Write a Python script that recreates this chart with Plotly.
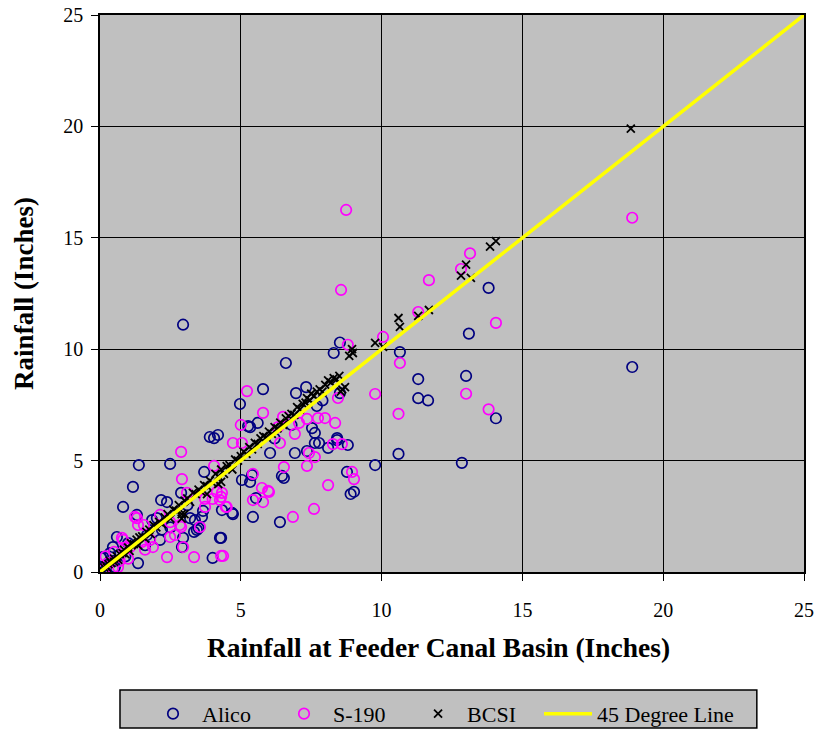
import plotly.graph_objects as go

# Alico gauge vs Feeder Canal Basin rainfall (inches)
alico_x = [2.95, 13.8, 13.1, 13.0, 14.06, 12.85, 18.9, 9.77, 10.6, 10.65, 11.3, 11.3, 11.65,
           8.77, 8.9, 9.02, 8.8, 8.42, 8.1, 7.78, 7.63, 7.35, 6.92, 6.53, 5.33, 5.54, 5.43,
           6.39, 4.72, 4.26, 8.52, 8.3, 6.6, 5.79, 6.96, 7.32, 7.7, 8.52, 5.33, 5.6, 7.53,
           7.63, 8.42, 4.97, 5.26, 3.9, 4.05, 4.19, 1.38, 2.49, 3.7, 1.17, 0.82, 2.17, 2.38,
           2.88, 4.33, 4.69, 3.66, 3.62, 3.34, 3.5, 2.95, 2.91, 4.3, 4.0, 1.35, 0.6, 0.04,
           1.67, 2.13, 5.04, 1.31, 1.85, 2.02, 0.11, 0.36, 0.46, 3.2, 3.37, 3.44, 6.04, 6.46,
           5.4, 0.53, 0.07, 0.3, 0.9, 1.0, 2.5, 3.1, 6.2, 6.8, 7.9, 0.2, 0.5, 1.6, 2.2]
alico_y = [11.1, 12.75, 10.7, 8.8, 6.9, 4.9, 9.2, 4.8, 5.3, 9.87, 8.66, 7.8, 7.7,
           4.49, 3.5, 3.6, 5.7, 5.92, 5.57, 5.79, 5.79, 5.43, 5.34, 4.22, 4.04, 3.32, 2.47,
           2.24, 2.6, 1.53, 10.3, 9.83, 9.38, 8.21, 8.03, 8.3, 7.45, 8.03, 6.5, 6.69, 6.46,
           6.24, 6.01, 7.54, 6.55, 6.06, 6.01, 6.15, 4.8, 4.85, 4.49, 3.82, 2.92, 3.23, 3.14,
           3.55, 2.78, 2.65, 2.74, 2.47, 1.8, 1.97, 1.53, 1.12, 1.53, 0.63, 0.4, 1.57, 0.63,
           1.66, 1.44, 4.13, 2.56, 2.33, 2.42, 0.67, 0.85, 1.12, 2.42, 2.33, 1.89, 5.34, 4.31,
           4.35, 0.22, 0.22, 0.4, 0.7, 1.3, 2.0, 3.0, 6.0, 6.6, 7.7, 0.1, 0.5, 1.2, 1.9]

# S-190 gauge
s190_x = [8.74, 18.9, 13.14, 12.82, 11.68, 11.3, 10.05, 14.06, 10.65, 13.0, 13.8, 10.6, 9.77,
          8.56, 8.8, 5.22, 5.0, 4.72, 5.04, 2.88, 4.05, 5.79, 6.5, 6.32, 7.07, 7.35, 7.74,
          7.99, 8.35, 8.45, 6.39, 6.92, 7.42, 7.63, 7.35, 6.53, 8.27, 8.59, 5.43, 6.0, 5.79,
          8.1, 8.95, 9.02, 7.6, 6.85, 4.33, 4.47, 4.37, 2.91, 3.09, 3.73, 4.0, 4.3, 3.73,
          4.5, 1.31, 1.35, 2.13, 2.88, 3.55, 2.95, 2.38, 3.34, 4.3, 0.82, 1.6, 1.88, 2.49,
          0.28, 0.64, 1.24, 1.56, 0.78, 1.49, 1.78, 1.07, 0.46, 2.49, 2.66, 2.84, 4.15, 4.26,
          5.75, 5.97, 5.43, 0.2, 0.5, 0.7, 1.0, 0.1, 0.9]
s190_y = [16.25, 15.9, 14.3, 13.6, 13.1, 11.67, 10.55, 11.18, 9.38, 8.0, 7.3, 7.1, 7.99,
          12.66, 10.2, 8.12, 6.6, 5.79, 5.79, 5.39, 4.76, 7.14, 6.96, 6.5, 6.69, 6.87, 6.91,
          6.91, 6.69, 7.81, 5.79, 6.2, 5.34, 5.16, 4.76, 4.71, 5.74, 5.74, 4.4, 3.59, 3.14,
          3.9, 4.49, 4.17, 2.83, 2.47, 3.55, 2.92, 0.72, 4.17, 3.55, 3.28, 3.28, 3.37, 2.92,
          2.92, 2.42, 2.11, 2.56, 2.02, 2.02, 1.12, 0.67, 0.67, 0.72, 1.44, 1.0, 1.12, 2.24,
          0.4, 0.22, 2.47, 2.11, 1.53, 1.35, 1.44, 1.12, 0.18, 1.57, 1.66, 2.11, 3.59, 3.23,
          3.77, 3.64, 3.23, 0.7, 0.9, 0.5, 0.6, 0.1, 1.1]

# BCSI gauge
bcsi_x = [0.05, 0.1, 0.15, 0.2, 0.25, 0.3, 0.35, 0.4, 0.5, 0.5, 0.6, 0.65, 0.7, 0.8, 0.85, 0.9,
          1.0, 1.05, 1.1, 1.2, 1.3, 1.35, 1.4, 1.5, 1.6, 1.65, 1.75, 1.8, 1.9, 2.0, 2.1, 2.2,
          2.3, 2.4, 2.5, 2.6, 2.7, 2.8, 2.9, 3.0, 3.1, 3.2, 3.3, 3.4, 3.5, 3.6, 3.7, 3.8, 3.9,
          4.0, 4.1, 4.2, 4.3, 4.4, 4.5, 4.6, 4.7, 4.8, 4.9, 5.0, 5.1, 5.2, 5.3, 5.4, 5.5, 5.6,
          5.7, 5.8, 5.9, 6.0, 6.1, 6.2, 6.3, 6.4, 6.5, 6.6, 6.7, 6.8, 6.9, 7.0, 7.1, 7.2, 7.3,
          7.35, 7.45, 7.5, 7.6, 7.7, 7.8, 7.9, 8.0, 8.1, 8.2, 8.3, 8.4, 8.5, 8.6, 8.7, 8.55,
          8.98, 8.85, 8.95, 9.77, 10.05, 10.6, 10.65, 11.3, 11.68, 12.82, 13.17, 13.0, 13.85,
          14.06, 18.85, 2.9, 3.0, 4.3, 4.2, 3.8]
bcsi_y = [0.1, 0.05, 0.2, 0.3, 0.2, 0.35, 0.5, 0.4, 0.45, 0.6, 0.7, 0.55, 0.8, 0.85, 1.0, 0.8,
          1.1, 0.95, 1.3, 1.25, 1.45, 1.2, 1.55, 1.6, 1.5, 1.8, 1.9, 1.7, 2.1, 2.0, 2.25, 2.15,
          2.45, 2.6, 2.4, 2.8, 2.75, 3.0, 2.6, 3.2, 3.3, 3.15, 3.55, 3.5, 3.7, 3.6, 3.9, 3.85, 4.1,
          4.0, 4.4, 4.3, 4.6, 4.4, 4.75, 4.8, 4.6, 5.05, 5.0, 5.2, 5.4, 5.3, 5.6, 5.5, 5.8, 5.75,
          6.0, 6.1, 6.05, 6.3, 6.2, 6.5, 6.45, 6.7, 6.6, 6.9, 7.0, 7.1, 7.05, 7.4, 7.3, 7.55, 7.6,
          7.8, 7.7, 8.0, 7.9, 8.1, 8.2, 8.1, 8.4, 8.6, 8.5, 8.7, 8.65, 8.8, 8.2, 8.3, 8.1,
          9.83, 9.7, 10.0, 10.28, 10.1, 11.4, 11.0, 11.5, 11.76, 13.3, 13.2, 13.8, 14.6,
          14.85, 19.9, 2.4, 2.6, 4.05, 3.95, 3.5]

line_x = [0, 25]
line_y = [0, 25]

font_family = "Liberation Serif"

fig = go.Figure()

fig.add_trace(go.Scatter(
    x=alico_x, y=alico_y, mode="markers", name="Alico", legend="legend",
    marker=dict(symbol="circle-open", size=10.5, color="#000080", line=dict(width=1.7))
))
fig.add_trace(go.Scatter(
    x=s190_x, y=s190_y, mode="markers", name="S-190", legend="legend2",
    marker=dict(symbol="circle-open", size=10.5, color="#FF00FF", line=dict(width=1.7))
))
fig.add_trace(go.Scatter(
    x=bcsi_x, y=bcsi_y, mode="markers", name="BCSI", legend="legend3",
    marker=dict(symbol="x-thin", size=8, color="black", line=dict(width=1.8, color="black"))
))
fig.add_trace(go.Scatter(
    x=line_x, y=line_y, mode="lines", name="45 Degree Line", legend="legend4",
    line=dict(color="#FFFF00", width=3.5)
))

axis_common = dict(
    range=[0, 25], dtick=5, showgrid=True, gridcolor="black", gridwidth=1.4,
    showline=True, linecolor="black", linewidth=1.5, mirror=True,
    ticks="outside", ticklen=7, tickcolor="black", tickwidth=1.4, zeroline=False,
    automargin=False,
    tickfont=dict(family=font_family, size=20, color="black"),
)

# legend frame drawn as a shape so it can be wider than its entries
legend_box = dict(
    type="rect", xref="paper", yref="paper",
    x0=0.0284, x1=0.933, y0=-0.280, y1=-0.2118,
    fillcolor="#C0C0C0", line=dict(color="black", width=1.5), layer="below",
)


def legend_at(x):
    return dict(
        orientation="h", x=x, xanchor="left", y=-0.217, yanchor="top",
        bgcolor="rgba(0,0,0,0)", borderwidth=0, itemwidth=48,
        font=dict(family=font_family, size=22),
    )


fig.update_layout(
    width=819, height=731,
    margin=dict(l=100, r=15, t=15, b=159, autoexpand=False),
    paper_bgcolor="white", plot_bgcolor="#C0C0C0",
    font=dict(family=font_family, color="black"),
    xaxis=dict(axis_common, ticklabelstandoff=12),
    yaxis=dict(axis_common, ticklabelstandoff=4,
               title=dict(text="<b>Rainfall (Inches)</b>",
                          font=dict(family=font_family, size=27), standoff=22)),
    annotations=[dict(
        text="<b>Rainfall at Feeder Canal Basin (Inches)</b>",
        xref="paper", yref="paper", x=0.4815, y=-0.1364,
        xanchor="center", yanchor="middle", showarrow=False,
        font=dict(family=font_family, size=27.5, color="black"),
    )],
    shapes=[legend_box],
    legend=legend_at(0.0625),
    legend2=legend_at(0.2486),
    legend3=legend_at(0.439),
    legend4=legend_at(0.6236),
    showlegend=True,
)

# page body has a default 8px margin; remove it so the figure fills the window
fig.write_html("out.html", config={"displayModeBar": False},
               post_script="document.body.style.margin='0';")
